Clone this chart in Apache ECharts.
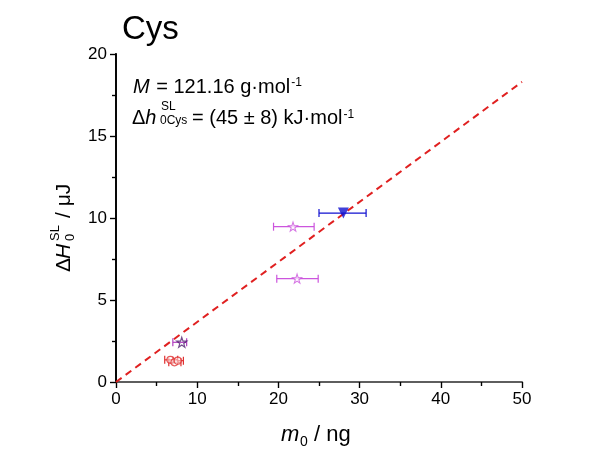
<!DOCTYPE html>
<html><head><meta charset="utf-8">
<script src="https://cdn.jsdelivr.net/npm/echarts@6/dist/echarts.min.js"></script>
<style>html,body{margin:0;padding:0;background:#fff}#c{width:595px;height:453px}</style>
</head><body><div id="c"></div>
<script>
// ---- data ----
const xTicks = [0, 10, 20, 30, 40, 50];
const yTicks = [0, 5, 10, 15, 20];
const fitLine = [[0, 0], [50, 18.3]];
// [m0, dH, xErrLow, xErrHigh]
const bluePoints = [[28.0, 10.3, 25.0, 30.8]];
const magentaStars = [[21.8, 9.47, 19.4, 24.4], [22.3, 6.3, 19.8, 24.9]];
const purplePoints = [[8.1, 2.42, 7.0, 8.7]];
const redPoints = [[6.7, 1.35, 6.0, 7.6], [7.2, 1.2, 6.5, 8.0], [7.6, 1.3, 7.0, 8.3]];

const FONT = '"Liberation Sans", Arial, sans-serif';
const starPath = 'path://M50,0 L61.8,35.4 L97.6,34.5 L69.1,56.7 L79.4,90.5 L50,70 L20.6,90.5 L30.9,56.7 L2.4,34.5 L38.2,35.4 Z';

const ctx = document.createElement('canvas').getContext('2d');
function tw(text, size, italic) {
  ctx.font = (italic ? 'italic ' : '') + size + 'px ' + FONT;
  return ctx.measureText(text).width;
}
// runs: [text, size, italic, dy, extraGapBefore]
function chain(x0, y0, runs) {
  let x = x0;
  return runs.map(r => {
    x += (r[4] || 0);
    const el = { type: 'text', x: x, y: y0 + (r[3] || 0),
      style: { text: r[0], fontFamily: FONT, fontSize: r[1], fontStyle: r[2] ? 'italic' : 'normal', fill: '#000' } };
    x += tw(r[0], r[1], r[2]);
    return el;
  });
}

function errSeries(data, color) {
  return {
    type: 'custom', data: data, z: 3,
    renderItem: function (params, api) {
      const y = api.value(1);
      const a = api.coord([api.value(2), y]);
      const b = api.coord([api.value(3), y]);
      const h = 4;
      const st = { stroke: color, lineWidth: 1.2 };
      return { type: 'group', children: [
        { type: 'line', shape: { x1: a[0], y1: a[1], x2: b[0], y2: b[1] }, style: st },
        { type: 'line', shape: { x1: a[0], y1: a[1] - h, x2: a[0], y2: a[1] + h }, style: st },
        { type: 'line', shape: { x1: b[0], y1: b[1] - h, x2: b[0], y2: b[1] + h }, style: st }
      ]};
    }
  };
}

const chart = echarts.init(document.getElementById('c'), null, { renderer: 'canvas' });
const axisLine = { show: true, lineStyle: { color: '#111', width: 1.5 } };
const tickStyle = { color: '#000', width: 1.2 };
chart.setOption({
  animation: false,
  backgroundColor: '#fff',
  grid: { left: 116, top: 54, right: 73, bottom: 71 },
  xAxis: [
    { type: 'value', min: 0, max: 50, interval: 10, position: 'bottom',
      axisLine: axisLine, splitLine: { show: false },
      axisTick: { show: true, inside: false, length: 6, lineStyle: tickStyle },
      minorTick: { show: true, splitNumber: 2, length: 4, lineStyle: tickStyle },
      axisLabel: { fontFamily: FONT, fontSize: 17, color: '#000', margin: 9,
        formatter: v => xTicks.indexOf(v) >= 0 ? String(v) : '' } },
    { type: 'value', min: 0, max: 50, interval: 10, position: 'top',
      axisLine: { show: true, lineStyle: { color: '#666', width: 1.5 } }, splitLine: { show: false },
      axisTick: { show: true, inside: true, length: 6, lineStyle: tickStyle },
      minorTick: { show: true, splitNumber: 2, length: 4, lineStyle: tickStyle },
      axisLabel: { show: false } }
  ],
  yAxis: [
    { type: 'value', min: 0, max: 20, interval: 5, position: 'left',
      axisLine: axisLine, splitLine: { show: false },
      axisTick: { show: true, inside: false, length: 6, lineStyle: tickStyle },
      minorTick: { show: true, splitNumber: 2, length: 4, lineStyle: tickStyle },
      axisLabel: { fontFamily: FONT, fontSize: 17, color: '#000', margin: 9,
        formatter: v => yTicks.indexOf(v) >= 0 ? String(v) : '' } },
    { type: 'value', min: 0, max: 20, interval: 5, position: 'right',
      axisLine: { show: true, lineStyle: { color: '#000', width: 1.8 } }, splitLine: { show: false },
      axisTick: { show: true, inside: true, length: 6, lineStyle: tickStyle },
      minorTick: { show: true, splitNumber: 2, length: 4, lineStyle: tickStyle },
      axisLabel: { show: false } }
  ],
  series: [
    { type: 'line', data: fitLine, showSymbol: false, symbol: 'none', z: 2,
      lineStyle: { color: '#e02020', width: 2, type: [7, 5] } },
    errSeries(redPoints, '#e03030'),
    errSeries(purplePoints, '#b040c0'),
    errSeries(magentaStars, '#cc55dd'),
    errSeries(bluePoints, '#1010d0'),
    { type: 'scatter', data: redPoints.map(p => [p[0], p[1]]), symbol: 'circle', symbolSize: 7, z: 4,
      itemStyle: { color: 'rgba(255,255,255,0.6)', borderColor: '#e03030', borderWidth: 1.2 } },
    { type: 'scatter', data: purplePoints.map(p => [p[0], p[1]]), symbol: starPath, symbolSize: 10, z: 4,
      itemStyle: { color: 'rgba(255,255,255,0)', borderColor: '#502070', borderWidth: 1.2 } },
    { type: 'scatter', data: magentaStars.map(p => [p[0], p[1]]), symbol: starPath, symbolSize: 9, z: 4,
      itemStyle: { color: '#fff', borderColor: '#cc55dd', borderWidth: 1.1 } },
    { type: 'scatter', data: bluePoints.map(p => [p[0], p[1]]), symbol: 'triangle', symbolRotate: 180, symbolSize: 11, z: 4,
      itemStyle: { color: '#1010d0' } }
  ],
  graphic: [
    { type: 'text', x: 122, y: 13, style: { text: 'Cys', fontFamily: FONT, fontSize: 33, fill: '#000' } },
    { type: 'group', x: 0, y: 0, children: chain(133, 77, [
      ['M', 20, true, 0, 0],
      [' = 121.16 g·mol', 20, false, 0, 1],
      ['-1', 12, false, 0, 1]
    ]) },
    { type: 'group', x: 0, y: 0, children: [
      ...chain(132, 108, [['Δ', 20, false, 0, 0], ['h', 20, true, 0, 0]]),
      { type: 'text', x: 161, y: 101, style: { text: 'SL', fontFamily: FONT, fontSize: 12, fill: '#000' } },
      { type: 'text', x: 160, y: 115, style: { text: '0Cys', fontFamily: FONT, fontSize: 12, fill: '#000' } },
      ...chain(192, 108, [['= (45 ± 8) kJ·mol', 20, false, 0, 0], ['-1', 12, false, 1, 1]])
    ]},
    { type: 'group', x: 54, y: 272, rotation: Math.PI / 2, children: [
      { type: 'text', x: 0, y: 0, style: { text: 'Δ', fontFamily: FONT, fontSize: 21, fill: '#000' } },
      { type: 'text', x: 13, y: 0, style: { text: 'H', fontFamily: FONT, fontSize: 21, fontStyle: 'italic', fill: '#000' } },
      { type: 'text', x: 31, y: -5, style: { text: 'SL', fontFamily: FONT, fontSize: 13, fill: '#000' } },
      { type: 'text', x: 31, y: 10, style: { text: '0', fontFamily: FONT, fontSize: 13, fill: '#000' } },
      { type: 'text', x: 54, y: 0, style: { text: '/ μJ', fontFamily: FONT, fontSize: 21, fill: '#000' } }
    ]},
    { type: 'group', x: 281, y: 424, children: [
      { type: 'text', x: 0, y: 0, style: { text: 'm', fontFamily: FONT, fontSize: 22, fontStyle: 'italic', fill: '#000' } },
      { type: 'text', x: 19, y: 11, style: { text: '0', fontFamily: FONT, fontSize: 14, fill: '#000' } },
      { type: 'text', x: 33, y: 0, style: { text: '/ ng', fontFamily: FONT, fontSize: 22, fill: '#000' } }
    ]}
  ]
});
</script></body></html>
